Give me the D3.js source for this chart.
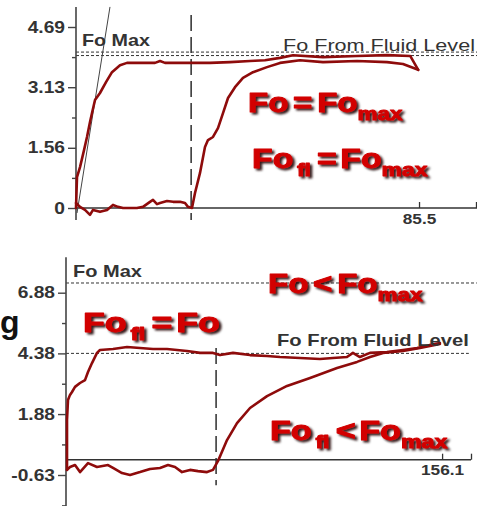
<!DOCTYPE html>
<html>
<head>
<meta charset="utf-8">
<script src="https://cdn.jsdelivr.net/npm/d3@7"></script>
<style>
  html, body { margin: 0; padding: 0; background: #fff; }
  svg { display: block; }
</style>
</head>
<body>
<svg id="chart" width="477" height="506"></svg>
<script>
// ---------- Upper trace: Fo reaches Fo max ----------
const topYTicks = [0, 1.56, 3.13, 4.69];
const topYLabels = ["0", "1.56", "3.13", "4.69"];
const topYMinor = [0.78, 2.345, 3.91];
const topXTicks = [85.5, 99.7];
const topXLabels = ["85.5", ""];
const topFoMax = 4.04;
const topFluid = 3.95;
const topValveT = 28.7;
const topTangent = [[0.25, -0.13], [8.47, 5.21]];
// Fo (first trace) : [time, force]
const topFo = [
  [0, 0], [0.25, 0.8], [1.0, 1.06], [2.0, 1.5], [2.74, 1.84], [3.49, 2.23], [3.99, 2.46],
  [4.74, 2.8], [5.98, 2.98], [7.48, 3.26], [8.97, 3.52], [10.97, 3.7], [12.71, 3.76],
  [15.95, 3.76], [19.69, 3.76], [20.94, 3.81], [22.18, 3.76], [25.92, 3.76], [28.66, 3.76],
  [33.4, 3.76], [38.39, 3.78], [43.37, 3.81], [47.11, 3.83], [50.85, 3.89], [54.09, 3.96],
  [61.57, 3.91], [70.0, 3.94], [77.5, 3.96], [83.3, 3.94], [85.3, 3.58]
];
// Fo from fluid level (second trace)
const topFoFl = [
  [0, 0.13], [1.0, 0.03], [2.24, -0.05], [3.49, -0.18], [4.24, -0.05], [5.98, -0.1],
  [7.73, -0.05], [9.22, 0.08], [10.47, 0.03], [11.71, 0], [15.2, 0], [16.7, 0.03],
  [18.44, 0.16], [19.19, 0.21], [20.19, 0.1], [20.94, 0.13], [22.68, 0.18], [24.18, 0.16],
  [25.92, 0.16], [27.17, 0.13], [27.92, 0.03], [28.91, 0], [29.66, 0.39], [30.91, 0.91],
  [32.15, 1.58], [32.9, 1.76], [34.15, 1.84], [35.39, 2.07], [36.64, 2.46], [37.89, 2.85],
  [39.63, 3.13], [41.62, 3.37], [44.12, 3.52], [47.61, 3.65], [50.85, 3.76], [55.83, 3.83],
  [61.57, 3.78], [70.04, 3.81], [77.52, 3.78], [81.5, 3.73], [85.3, 3.58]
];

// ---------- Lower trace: Fo below Fo max ----------
const botYTicks = [-0.63, 1.88, 4.38, 6.88];
const botYLabels = ["-0.63", "1.88", "4.38", "6.88"];
const botYMinor = [-1.88, 0.63, 3.13, 5.63];
const botXTicks = [156.1, 168.1];
const botXLabels = ["156.1", ""];
const botFoMax = 7.28;
const botFluid = 4.38;
const botValveT = 62.3;
const botFo = [
  [0.42, -0.42], [0.42, 1.64], [0.83, 2.46], [1.66, 2.67], [2.49, 2.79], [3.74, 3.0],
  [5.81, 3.16], [7.89, 3.28], [9.13, 3.61], [10.79, 3.98], [12.87, 4.4], [14.11, 4.52],
  [19.51, 4.56], [25.32, 4.64], [30.72, 4.6], [36.11, 4.56], [41.93, 4.56], [46.08, 4.52],
  [50.23, 4.48], [55.62, 4.4], [61.02, 4.4], [63.93, 4.31], [69.32, 4.4], [76.38, 4.31],
  [83.44, 4.27], [88.83, 4.23], [97.14, 4.19], [105.4, 4.15], [110.8, 4.19], [116.6, 4.23],
  [119.1, 4.4], [122.0, 4.23], [126.2, 4.4], [133.2, 4.44], [139.9, 4.52], [145.7, 4.6],
  [151.1, 4.73], [155.2, 4.81]
];
const botFoFl = [
  [0.42, -0.42], [1.66, -0.3], [3.74, -0.22], [5.81, -0.51], [9.13, -0.14], [12.87, -0.3],
  [17.43, -0.22], [19.51, -0.34], [23.25, -0.55], [26.57, -0.63], [30.72, -0.51],
  [34.87, -0.38], [39.02, -0.34], [42.34, -0.22], [45.25, -0.3], [48.15, -0.51],
  [51.47, -0.42], [54.79, -0.47], [58.53, -0.51], [61.02, -0.42], [63.1, -0.05],
  [66.83, 0.81], [70.98, 1.51], [76.38, 2.13], [83.44, 2.62], [91.74, 3.04], [101.3, 3.37],
  [112.5, 3.78], [120.8, 4.03], [126.2, 4.23], [131.6, 4.4], [139.9, 4.48], [146.9, 4.6],
  [155.2, 4.77]
];

const svg = d3.select("#chart");
const FONT = "'Liberation Sans', Arial, Helvetica, sans-serif";
const INK = "#333";
const TRACE = "#8e0b0b";
const RED = "#d20000";

const defs = svg.append("defs");
const shadow = defs.append("filter").attr("id", "shadow")
  .attr("x", "-10%").attr("y", "-30%").attr("width", "130%").attr("height", "170%");
shadow.append("feDropShadow").attr("dx", 2).attr("dy", 2).attr("stdDeviation", 0.9)
  .attr("flood-color", "#1c0000").attr("flood-opacity", 0.9);

// plain grey caption, squeezed / stretched to a given width
function caption(text, left, baseline, width, size, weight) {
  const t = svg.append("text").text(text)
    .attr("font-family", FONT).attr("font-size", size).attr("font-weight", weight)
    .attr("fill", INK);
  const w = t.node().getComputedTextLength();
  t.attr("transform", `translate(${left},${baseline}) scale(${width / w},1)`);
}

// red equation with subscripts and a drop shadow
function equation(parts, left, baseline, width) {
  const t = svg.append("text")
    .attr("font-family", FONT).attr("font-weight", "bold")
    .attr("fill", RED).attr("stroke", RED).attr("stroke-width", 1)
    .attr("stroke-linejoin", "round").attr("filter", "url(#shadow)");
  let shift = 0;
  parts.forEach(p => {
    const down = p.sub ? 8 : 0;
    const ts = t.append("tspan").text(p.text)
      .attr("font-size", p.sub ? 19 : 28)
      .attr("dy", down - shift);
    if (p.dx) ts.attr("dx", p.dx);
    shift = down;
  });
  const w = t.node().getBBox().width;
  t.attr("transform", `translate(${left},${baseline}) scale(${width / w},1)`);
}

function panel(cfg) {
  const x = d3.scaleLinear().domain(cfg.xDomain).range(cfg.xRange);
  const y = d3.scaleLinear().domain(cfg.yDomain).range(cfg.yRange);
  const g = svg.append("g");

  // dotted reference levels
  cfg.levels.forEach(l => {
    g.append("line")
      .attr("x1", x(0)).attr("x2", x(l.tEnd))
      .attr("y1", y(l.v)).attr("y2", y(l.v))
      .attr("stroke", INK).attr("stroke-width", 1).attr("stroke-dasharray", "3,2");
  });

  // valve-closure marker
  g.append("line")
    .attr("x1", x(cfg.valveT)).attr("x2", x(cfg.valveT))
    .attr("y1", y(cfg.valveSpan[0])).attr("y2", y(cfg.valveSpan[1]))
    .attr("stroke", "#3a3a3a").attr("stroke-width", 1.6).attr("stroke-dasharray", "16,6");

  // time axis (zero force)
  g.append("line")
    .attr("x1", x(0)).attr("x2", x(cfg.xEnd))
    .attr("y1", y(0)).attr("y2", y(0))
    .attr("stroke", INK).attr("stroke-width", 1.4);

  const xAxis = d3.axisBottom(x).tickValues(cfg.xTicks).tickSize(-6).tickPadding(5)
    .tickFormat((d, i) => cfg.xLabels[i]);
  const gx = g.append("g").attr("transform", `translate(0,${y(0)})`).call(xAxis);
  gx.select(".domain").remove();
  gx.selectAll("line").attr("stroke", INK).attr("stroke-width", 1.3);
  gx.selectAll("text").attr("font-family", FONT).attr("font-size", 15).attr("font-weight", "bold")
    .attr("fill", INK).attr("transform", "scale(1.15,1)");

  // force axis
  g.append("line")
    .attr("x1", x(0)).attr("x2", x(0))
    .attr("y1", y(cfg.yAxisSpan[0])).attr("y2", y(cfg.yAxisSpan[1]))
    .attr("stroke", "#444").attr("stroke-width", 1.6);

  const yAxis = d3.axisLeft(y).tickValues(cfg.yTicks).tickSize(8)
    .tickFormat((d, i) => cfg.yLabels[i]);
  const gy = g.append("g").attr("transform", `translate(${x(0)},0)`).call(yAxis);
  gy.select(".domain").remove();
  gy.selectAll("line").attr("stroke", "#444").attr("stroke-width", 1.4);
  gy.selectAll("text").attr("font-family", FONT).attr("font-size", 16).attr("font-weight", "bold")
    .attr("fill", INK).attr("x", -11 / 1.2).attr("transform", "scale(1.2,1)");

  const gm = g.append("g").attr("transform", `translate(${x(0)},0)`)
    .call(d3.axisLeft(y).tickValues(cfg.yMinor).tickSize(4).tickFormat(""));
  gm.select(".domain").remove();
  gm.selectAll("line").attr("stroke", "#444").attr("stroke-width", 1.4);

  // extra guide line (tangent)
  if (cfg.tangent) {
    g.append("line")
      .attr("x1", x(cfg.tangent[0][0])).attr("y1", y(cfg.tangent[0][1]))
      .attr("x2", x(cfg.tangent[1][0])).attr("y2", y(cfg.tangent[1][1]))
      .attr("stroke", "#444").attr("stroke-width", 1);
  }

  // force traces
  const line = d3.line().x(d => x(d[0])).y(d => y(d[1]));
  cfg.traces.forEach(tr => {
    g.append("path").datum(tr).attr("d", line)
      .attr("fill", "none").attr("stroke", TRACE).attr("stroke-width", 2.6)
      .attr("stroke-linejoin", "round").attr("stroke-linecap", "round");
  });
}

panel({
  xDomain: [0, 99.7], xRange: [76, 476],
  yDomain: [0, 4.69], yRange: [208, 27],
  xEnd: 100.2, xTicks: topXTicks, xLabels: topXLabels,
  yTicks: topYTicks, yLabels: topYLabels, yMinor: topYMinor,
  yAxisSpan: [5.21, -0.31],
  levels: [{ v: topFoMax, tEnd: 100.2 }, { v: topFluid, tEnd: 100.2 }],
  valveT: topValveT, valveSpan: [5.0, -0.31],
  tangent: topTangent,
  traces: [topFoFl, topFo]
});

panel({
  xDomain: [0, 168.1], xRange: [66, 471],
  yDomain: [-0.63, 6.88], yRange: [475, 292.7],
  xEnd: 168.1, xTicks: botXTicks, xLabels: botXLabels,
  yTicks: botYTicks, yLabels: botYLabels, yMinor: botYMinor,
  yAxisSpan: [8.34, -1.95],
  levels: [{ v: botFoMax, tEnd: 170.5 }, { v: botFluid, tEnd: 167.2 }],
  valveT: botValveT, valveSpan: [4.6, -1.05],
  tangent: null,
  traces: [botFoFl, botFo]
});

// level captions
caption("Fo Max", 82, 46, 68, 16, "bold");
caption("Fo From Fluid Level", 283, 51, 192, 16, "normal");
caption("Fo Max", 73, 277, 69, 16, "bold");
caption("Fo From Fluid Level", 277, 346, 192, 16, "bold");

// equations
equation([{ text: "Fo" }, { text: "=", dx: 4 }, { text: "Fo", dx: 4 }, { text: "max", sub: true }], 248, 112, 155);
equation([{ text: "Fo" }, { text: "fl", sub: true, dx: 3 }, { text: "=", dx: 5 }, { text: "Fo", dx: 3 }, { text: "max", sub: true }], 252, 168, 176);
equation([{ text: "Fo" }, { text: "<", dx: 4 }, { text: "Fo", dx: 4 }, { text: "max", sub: true }], 268, 293, 155);
equation([{ text: "Fo" }, { text: "fl", sub: true, dx: 3 }, { text: "=", dx: 5 }, { text: "Fo", dx: 3 }], 83, 332, 137);
equation([{ text: "Fo" }, { text: "fl", sub: true, dx: 3 }, { text: "<", dx: 5 }, { text: "Fo", dx: 3 }, { text: "max", sub: true }], 270, 440, 178);

// tail of a neighbouring word
svg.append("text").text("g")
  .attr("x", 0).attr("y", 333)
  .attr("font-family", FONT).attr("font-size", 32).attr("font-weight", "bold")
  .attr("fill", "#111");
</script>
</body>
</html>
